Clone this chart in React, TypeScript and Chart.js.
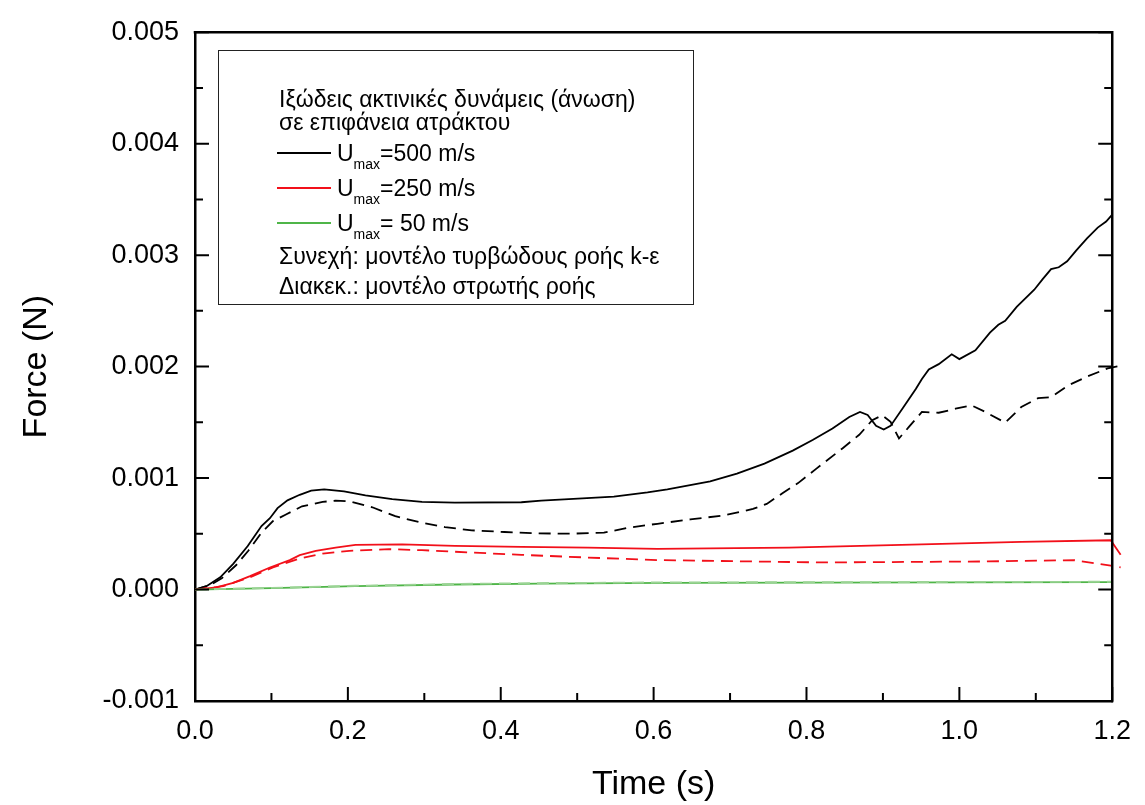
import React, { useEffect, useRef } from "react";
import { Chart, registerables } from "chart.js";

Chart.register(...registerables);

const FONT = '"Liberation Sans", Arial, Helvetica, sans-serif';

// ---- data (time in s, force in N) ----
const tBlackSolid = [0, 0.015, 0.033, 0.05, 0.069, 0.087, 0.098, 0.108, 0.121, 0.137, 0.152, 0.169, 0.195, 0.223, 0.258, 0.297, 0.34, 0.427, 0.453, 0.501, 0.548, 0.592, 0.618, 0.674, 0.709, 0.745, 0.782, 0.808, 0.834, 0.856, 0.87, 0.88, 0.891, 0.901, 0.91, 0.927, 0.943, 0.951, 0.96, 0.973, 0.99, 1.0, 1.021, 1.04, 1.051, 1.06, 1.075, 1.098, 1.109, 1.12, 1.13, 1.141, 1.153, 1.167, 1.181, 1.192, 1.2, 1.211];
const fBlackSolid = [0, 0.00003, 0.00011, 0.00023, 0.00039, 0.00057, 0.00064, 0.00073, 0.0008, 0.00085, 0.000887, 0.000899, 0.000881, 0.000845, 0.000812, 0.000786, 0.00078, 0.000783, 0.000798, 0.000816, 0.000834, 0.000872, 0.000899, 0.00097, 0.00104, 0.00113, 0.001246, 0.001341, 0.001444, 0.001548, 0.001593, 0.001566, 0.001468, 0.001435, 0.001468, 0.001637, 0.0018, 0.001889, 0.001975, 0.002022, 0.002111, 0.002067, 0.002147, 0.002304, 0.002375, 0.002411, 0.002536, 0.00269, 0.002785, 0.002874, 0.002891, 0.002945, 0.003043, 0.00315, 0.003247, 0.003301, 0.003364, 0.003348];

const tBlackDash = [0, 0.02, 0.035, 0.054, 0.07, 0.087, 0.102, 0.119, 0.14, 0.167, 0.184, 0.202, 0.232, 0.262, 0.297, 0.327, 0.362, 0.405, 0.449, 0.492, 0.535, 0.566, 0.605, 0.648, 0.691, 0.73, 0.748, 0.769, 0.789, 0.813, 0.847, 0.869, 0.886, 0.899, 0.91, 0.921, 0.934, 0.951, 0.973, 0.995, 1.016, 1.034, 1.06, 1.081, 1.103, 1.12, 1.142, 1.168, 1.194, 1.211];
const fBlackDash = [0, 0.00004, 0.0001, 0.00022, 0.00035, 0.00051, 0.000614, 0.000673, 0.000747, 0.000786, 0.000798, 0.000792, 0.000738, 0.000658, 0.000599, 0.00056, 0.000531, 0.000516, 0.000504, 0.000501, 0.00051, 0.000554, 0.00059, 0.000629, 0.000664, 0.000723, 0.000768, 0.000866, 0.000955, 0.001085, 0.001266, 0.001388, 0.001519, 0.001563, 0.001504, 0.001355, 0.001459, 0.001593, 0.001586, 0.001622, 0.001652, 0.001593, 0.001497, 0.001637, 0.001717, 0.001726, 0.00183, 0.001913, 0.001984, 0.002008];

const tRedSolid = [0, 0.028, 0.05, 0.072, 0.098, 0.124, 0.137, 0.158, 0.184, 0.21, 0.271, 0.34, 0.427, 0.514, 0.605, 0.777, 0.951, 1.081, 1.198, 1.211];
const fRedSolid = [0, 0.00002, 0.00006, 0.00012, 0.000198, 0.000264, 0.000309, 0.000347, 0.000376, 0.0004, 0.000406, 0.000391, 0.000383, 0.000376, 0.000365, 0.000376, 0.000406, 0.000427, 0.000442, 0.000311];

const tRedDash = [0, 0.037, 0.072, 0.102, 0.137, 0.167, 0.202, 0.254, 0.297, 0.362, 0.427, 0.514, 0.605, 0.821, 1.037, 1.15, 1.198, 1.211];
const fRedDash = [0, 0.00003, 0.00011, 0.000198, 0.000279, 0.000323, 0.000347, 0.000362, 0.000353, 0.000332, 0.000311, 0.000287, 0.000264, 0.000243, 0.000252, 0.000264, 0.000214, 0.000198];

const tGreenSolid = [0, 0.1, 0.21, 0.34, 0.45, 0.618, 0.8, 1.0, 1.2, 1.211];
const fGreenSolid = [0, 0.000012, 0.00003, 0.000045, 0.000053, 0.00006, 0.000062, 0.000064, 0.000066, 0.000065];

const tGreenDash = [0, 0.1, 0.21, 0.34, 0.45, 0.618, 0.8, 1.0, 1.2, 1.211];
const fGreenDash = [0, 0.000014, 0.000034, 0.00005, 0.000058, 0.000064, 0.000066, 0.000068, 0.00007, 0.000068];

// ---- axes ----
const xMin = 0;
const xMax = 1.2;
const xStep = 0.2;
const yMin = -0.001;
const yMax = 0.005;
const yStep = 0.001;
const xTitle = "Time (s)";
const yTitle = "Force (N)";

// ---- legend ----
const legendTitle = ["Ιξώδεις ακτινικές δυνάμεις (άνωση)", "σε επιφάνεια ατράκτου"];
const legendSpeeds = ["=500 m/s", "=250 m/s", "= 50 m/s"];
const legendNotes = ["Συνεχή: μοντέλο τυρβώδους ροής k-ε", "Διακεκ.: μοντέλο στρωτής ροής"];

const BLACK = "#000000";
const RED = "#f2101a";
const GREEN = "#4fb548";
const GREEN_LIGHT = "#9ad394";
const legendColors = [BLACK, RED, GREEN];

const pts = (t: number[], f: number[]) => t.map((x, i) => ({ x, y: f[i] }));

const AXIS_W = 2.5;

const decorPlugin = {
  id: "decor",
  afterDatasetsDraw(chart: any) {
    const { ctx, chartArea, scales } = chart;
    const xs = scales.x;
    const ys = scales.y;
    const { left, right, top, bottom } = chartArea;
    ctx.save();
    ctx.strokeStyle = "#000";
    ctx.lineWidth = 2;
    const MAJ = 14;
    const MIN = 8;
    for (let k = 0; k <= 12; k++) {
      const v = yMin + (k * yStep) / 2;
      const py = ys.getPixelForValue(v);
      const len = k % 2 === 0 ? MAJ : MIN;
      ctx.beginPath();
      ctx.moveTo(left, py);
      ctx.lineTo(left + len, py);
      ctx.moveTo(right, py);
      ctx.lineTo(right - len, py);
      ctx.stroke();
    }
    for (let k = 0; k <= 12; k++) {
      const v = xMin + (k * xStep) / 2;
      const px = xs.getPixelForValue(v);
      const len = k % 2 === 0 ? MAJ : MIN;
      ctx.beginPath();
      ctx.moveTo(px, bottom);
      ctx.lineTo(px, bottom - len);
      ctx.stroke();
    }
    ctx.lineWidth = AXIS_W;
    ctx.beginPath();
    ctx.moveTo(left - AXIS_W / 2, top);
    ctx.lineTo(right, top);
    ctx.lineTo(right, bottom + AXIS_W / 2);
    ctx.stroke();
    ctx.restore();
  },
  afterDraw(chart: any) {
    const { ctx } = chart;
    ctx.save();
    const bx = 218;
    const by = 50;
    const bw = 693 - bx;
    const bh = 304 - by;
    ctx.fillStyle = "#fff";
    ctx.fillRect(bx, by, bw, bh);
    ctx.strokeStyle = "#222";
    ctx.lineWidth = 1;
    ctx.strokeRect(bx + 0.5, by + 0.5, bw, bh);

    const tx = 279;
    ctx.fillStyle = "#000";
    ctx.textBaseline = "alphabetic";
    ctx.textAlign = "left";
    ctx.font = `23px ${FONT}`;
    ctx.fillText(legendTitle[0], tx, 107);
    ctx.fillText(legendTitle[1], tx, 130);

    const bases = [161, 196, 231];
    legendSpeeds.forEach((s, i) => {
      const b = bases[i];
      ctx.strokeStyle = legendColors[i];
      ctx.lineWidth = 1.8;
      ctx.beginPath();
      ctx.moveTo(277, b - 8);
      ctx.lineTo(331, b - 8);
      ctx.stroke();
      let x = 337;
      ctx.font = `23px ${FONT}`;
      ctx.fillText("U", x, b);
      x += ctx.measureText("U").width;
      ctx.font = `14px ${FONT}`;
      ctx.fillText("max", x, b + 8);
      x += ctx.measureText("max").width;
      ctx.font = `23px ${FONT}`;
      ctx.fillText(s, x, b);
    });
    ctx.font = `23px ${FONT}`;
    ctx.fillText(legendNotes[0], tx, 264);
    ctx.fillText(legendNotes[1], tx, 294);
    ctx.restore();
  },
};

export default function App() {
  const ref = useRef<HTMLCanvasElement | null>(null);
  useEffect(() => {
    if (!ref.current) return;
    const common = { pointRadius: 0, borderWidth: 1.8, tension: 0, fill: false, clip: false as any };
    const chart = new Chart(ref.current, {
      type: "line",
      data: {
        datasets: [
          { ...common, data: pts(tGreenDash, fGreenDash), borderColor: GREEN_LIGHT, borderDash: [12, 7] },
          { ...common, data: pts(tGreenSolid, fGreenSolid), borderColor: GREEN },
          { ...common, data: pts(tRedDash, fRedDash), borderColor: RED, borderDash: [12, 7] },
          { ...common, data: pts(tRedSolid, fRedSolid), borderColor: RED },
          { ...common, data: pts(tBlackDash, fBlackDash), borderColor: BLACK, borderDash: [12, 7] },
          { ...common, data: pts(tBlackSolid, fBlackSolid), borderColor: BLACK },
        ] as any,
      },
      options: {
        animation: false,
        responsive: false,
        maintainAspectRatio: false,
        layout: { padding: { left: 0, right: 27, top: 27, bottom: 0 } },
        plugins: { legend: { display: false }, tooltip: { enabled: false } },
        scales: {
          x: {
            type: "linear",
            min: xMin,
            max: xMax,
            grid: { display: false, drawTicks: false },
            border: { display: true, color: "#000", width: AXIS_W },
            ticks: {
              stepSize: xStep,
              color: "#000",
              font: { family: FONT, size: 27 },
              padding: 14,
              maxRotation: 0,
              callback: (v: any) => Number(v).toFixed(1),
            },
            title: {
              display: true,
              text: xTitle,
              color: "#000",
              font: { family: FONT, size: 34, lineHeight: 1 },
              padding: { top: 0, bottom: 3 },
            },
            afterFit: (s: any) => {
              s.height = 104;
            },
          },
          y: {
            type: "linear",
            min: yMin,
            max: yMax,
            grid: { display: false, drawTicks: false },
            border: { display: true, color: "#000", width: AXIS_W },
            ticks: {
              stepSize: yStep,
              color: "#000",
              font: { family: FONT, size: 27 },
              padding: 16,
              callback: (v: any) => (Math.abs(Number(v)) < 1e-9 ? "0.000" : Number(v).toFixed(3)),
            },
            title: {
              display: true,
              text: yTitle,
              color: "#000",
              font: { family: FONT, size: 34, lineHeight: 1 },
              padding: { top: 20, bottom: 0 },
            },
            afterFit: (s: any) => {
              s.width = 195;
            },
          },
        },
      } as any,
      plugins: [decorPlugin],
    });
    return () => chart.destroy();
  }, []);
  return (
    <div style={{ position: "fixed", left: 0, top: 0, width: 1145, height: 805, background: "#fff" }}>
      <canvas ref={ref} width={1145} height={805} style={{ width: 1145, height: 805 }} />
    </div>
  );
}
